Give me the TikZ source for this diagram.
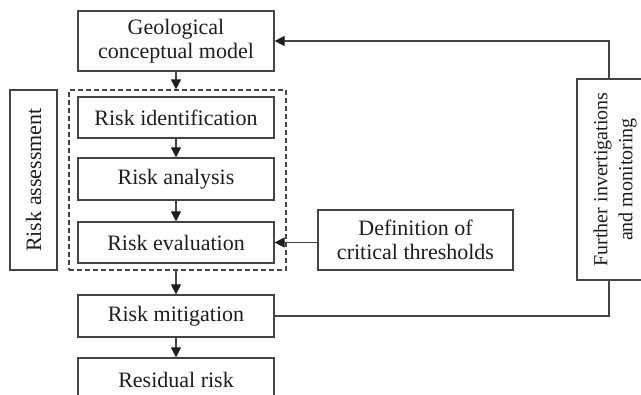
\documentclass[tikz,border=0pt]{standalone}
\usepackage{fontspec}
\setmainfont{Liberation Serif}
\usetikzlibrary{arrows.meta}
\definecolor{linec}{HTML}{444444}
\definecolor{textc}{HTML}{1E1E1E}
\begin{document}
\begin{tikzpicture}[x=1pt,y=-1pt,
  box/.style={draw=linec,line width=1.2pt,rectangle,minimum width=196pt,align=center,
    text=textc,font=\fontsize{22}{24}\selectfont,inner sep=0pt},
  vbox/.style={draw=linec,line width=1.2pt,rectangle,inner sep=0pt},
  vtext/.style={rotate=90,align=center,text=textc,inner sep=0pt},
  conn/.style={draw=linec,line width=1.2pt},
  arr/.style={conn,-{Triangle[length=10pt,width=10pt,color=textc]}}]
\useasboundingbox (0,0) rectangle (641,395);
\clip (0,0) rectangle (641,395);
\node[box,minimum height=60pt] (geo) at (176,41) {Geological\\conceptual model};
\node[draw=linec,line width=1.2pt,dash pattern=on 5pt off 3pt,minimum width=217pt,minimum height=180pt,inner sep=0pt] (ra) at (177.5,180) {};
\node[box,minimum height=41pt] (ide) at (176,117.5) {Risk identification};
\node[box,minimum height=42pt] (ana) at (176,179) {Risk analysis};
\node[box,minimum height=41pt] (eva) at (176,242.5) {Risk evaluation};
\node[box,minimum height=42pt] (mit) at (176,316) {Risk mitigation};
\node[box,minimum height=44pt] (res) at (176,380) {Residual risk};
\node[vbox,minimum width=47pt,minimum height=180pt] (asb) at (33.5,180) {};
\node[vtext,font=\fontsize{22}{24}\selectfont] (ast) at (asb.center) {Risk assessment};
\node[box,minimum width=195pt,minimum height=60pt] (def) at (415.5,240) {Definition of\\critical thresholds};
\node[vbox,minimum width=76pt,minimum height=201pt] (fur) at (615,179.5) {};
\node[vtext,font=\fontsize{20}{25}\selectfont] (furt) at (fur.center) {Further invertigations\\and monitoring};
\coordinate (ft) at (609,79);
\coordinate (fb) at (609,280);
\draw[arr] (geo.south) -- (ra.north -| geo.south);
\draw[arr] (ide) -- (ana);
\draw[arr] (ana) -- (eva);
\draw[arr] (ra.south -| mit.north) -- (mit.north);
\draw[arr] (mit) -- (res);
\draw[arr] (eva.east -| def.west) -- (eva.east);
\draw[arr] (ft) |- (geo.east);
\draw[conn] (mit.east) -| (fb);
\end{tikzpicture}
\end{document}
